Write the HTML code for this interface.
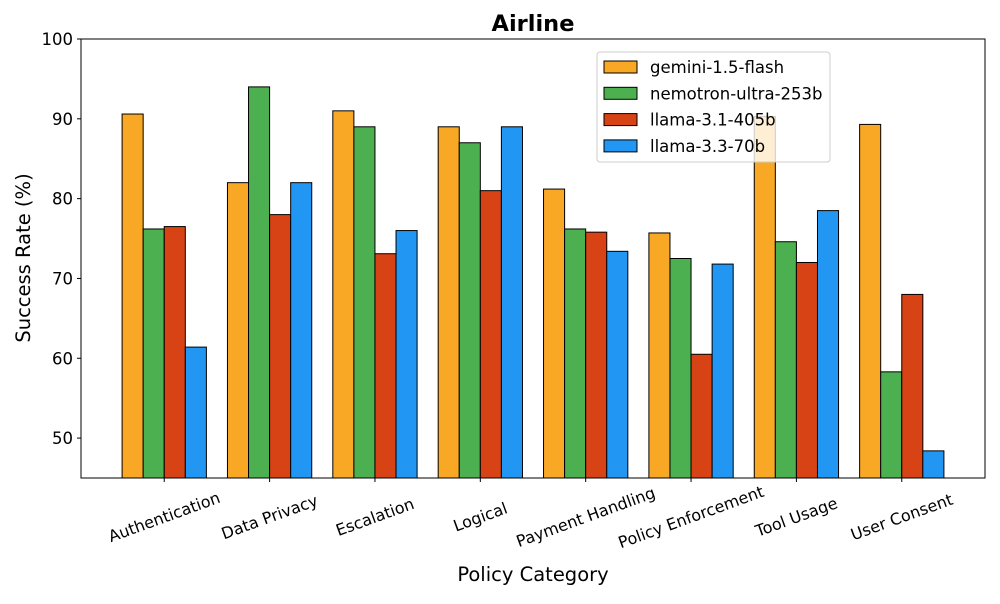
<!DOCTYPE html>
<html><head><meta charset="utf-8"><style>
body{margin:0;background:#fff;font-family:"DejaVu Sans","Liberation Sans",sans-serif}
svg text{font-family:"DejaVu Sans","Liberation Sans",sans-serif}
</style></head><body>
<svg id="c" width="1000" height="600" xmlns="http://www.w3.org/2000/svg"></svg>
<script>
const categories=["Authentication","Data Privacy","Escalation","Logical","Payment Handling","Policy Enforcement","Tool Usage","User Consent"];
const seriesNames=["gemini-1.5-flash","nemotron-ultra-253b","llama-3.1-405b","llama-3.3-70b"];
const gemini=[90.6,82,91,89,81.2,75.7,90.3,89.3];
const nemotron=[76.2,94,89,87,76.2,72.5,74.6,58.3];
const llama405=[76.5,78,73.1,81,75.8,60.5,72,68];
const llama70=[61.4,82,76,89,73.4,71.8,78.5,48.4];
const yTicks=[50,60,70,80,90,100];
const colors=["#F9A825","#4CAF50","#D84315","#2196F3"];
const series=[gemini,nemotron,llama405,llama70];
const L=81,R=985,T=39,B=478,yMin=45,yMax=100,xMin=-0.79,xMax=7.79;
const x=v=>L+(v-xMin)/(xMax-xMin)*(R-L);
const y=v=>B-(v-yMin)/(yMax-yMin)*(B-T);
const svg=document.getElementById('c');const NS="http://www.w3.org/2000/svg";
function mk(t,a,p){const e=document.createElementNS(NS,t);for(const k in a)e.setAttribute(k,a[k]);(p||svg).appendChild(e);return e;}
const bw=x(0.2)-x(0);
series.forEach((s,si)=>{s.forEach((v,ci)=>{
 const cx=x(ci+(si-1.5)*0.2);
 const r=mk('rect',{x:cx-bw/2,y:y(v),width:bw,height:B-y(v),fill:colors[si],stroke:'#000','stroke-width':1});
 
 
});});
const ax=mk('rect',{x:L,y:T,width:R-L,height:B-T,fill:'none',stroke:'#000','stroke-width':1});


yTicks.forEach(t=>{
 mk('line',{x1:L-4,x2:L,y1:y(t),y2:y(t),stroke:'#000'});
 const tx=mk('text',{x:L-8,y:y(t)+6,'text-anchor':'end','font-size':16.5});tx.textContent=t;
 
 
});
categories.forEach((c,i)=>{
 const px=x(i);
 mk('line',{x1:px,x2:px,y1:B,y2:B+4,stroke:'#000'});
 const cy=517;
 const tx=mk('text',{x:px,y:cy,'text-anchor':'middle','dominant-baseline':'central','font-size':16,transform:`rotate(-20 ${px} ${cy})`});tx.textContent=c;
 
 
});
const ti=mk('text',{x:533,y:31,'text-anchor':'middle','font-size':22.5,'font-weight':'bold'});ti.textContent="Airline";


const yl=mk('text',{x:30,y:258,'text-anchor':'middle','font-size':19.5,transform:'rotate(-90 30 258)'});yl.textContent="Success Rate (%)";


const xl=mk('text',{x:533,y:581,'text-anchor':'middle','font-size':19.5});xl.textContent="Policy Category";


const lg=mk('g',{});


mk('rect',{x:597,y:52,width:233,height:110,rx:3,fill:'#fff','fill-opacity':0.8,stroke:'#ccc'},lg);
seriesNames.forEach((n,i)=>{
 const yy=67+i*26.3;
 mk('rect',{x:604,y:yy-6,width:33,height:12,fill:colors[i],stroke:'#000'},lg);
 const t=mk('text',{x:650,y:yy+6,'font-size':16.5},lg);t.textContent=n;
 
 
});
</script>
</body></html>
